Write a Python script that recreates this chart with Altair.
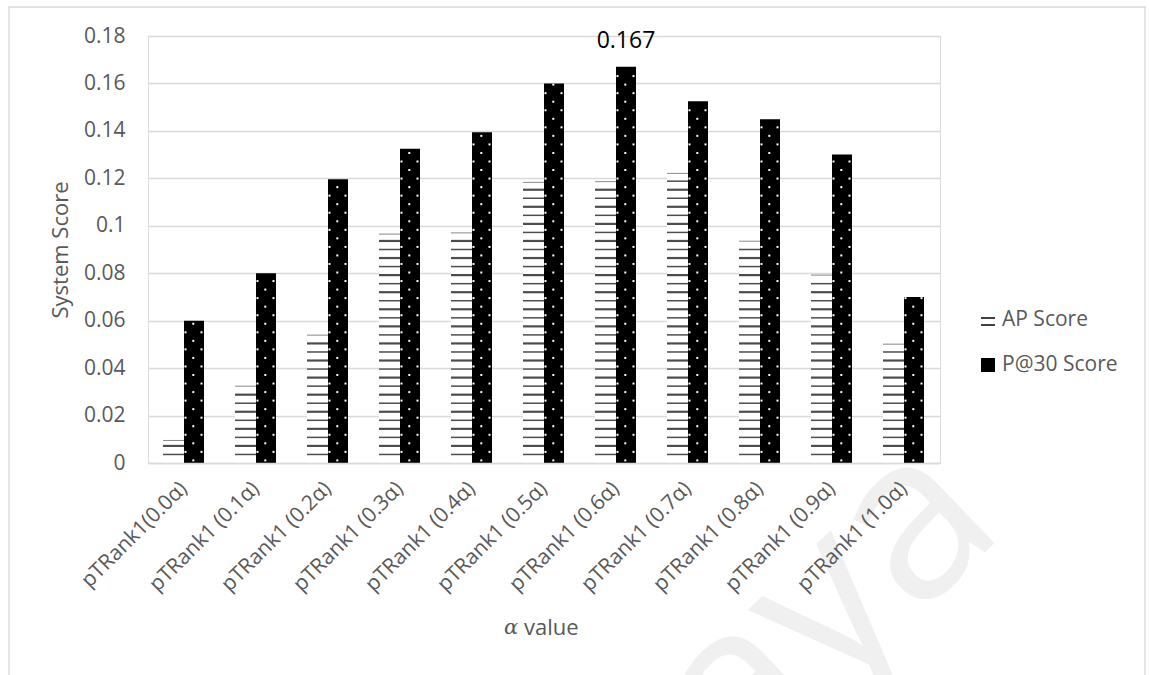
import altair as alt
import pandas as pd

# ---- data -------------------------------------------------------------
categories = [
    "pTRank1(0.0α)", "pTRank1 (0.1α)", "pTRank1 (0.2α)", "pTRank1 (0.3α)",
    "pTRank1 (0.4α)", "pTRank1 (0.5α)", "pTRank1 (0.6α)", "pTRank1 (0.7α)",
    "pTRank1 (0.8α)", "pTRank1 (0.9α)", "pTRank1 (1.0α)",
]
ap_scores = [0.0095, 0.0324, 0.0539, 0.0965, 0.0970, 0.1183, 0.1186, 0.1221, 0.0935, 0.0792, 0.0501]
p30_scores = [0.060, 0.080, 0.1196, 0.1325, 0.1394, 0.160, 0.167, 0.1525, 0.1449, 0.130, 0.070]
labelled_category = "pTRank1 (0.6α)"
series_names = ["AP Score", "P@30 Score"]
y_ticks = [0, 0.02, 0.04, 0.06, 0.08, 0.1, 0.12, 0.14, 0.16, 0.18]

# ---- styling ----------------------------------------------------------
FONT = "Open Sans"
GREY_TEXT = "#595959"
GRID = "#d9d9d9"
W, H = 792, 427
PAD_L, PAD_T = 148, 36
PATTERN_STEP = 0.0036  # spacing of the hatch lines / dot rows in data units

ap_df = pd.DataFrame({"cat": categories, "value": ap_scores})
p_df = pd.DataFrame({"cat": categories, "value": p30_scores})

# horizontal hatch lines inside the AP bars
hatch_rows = []
for c, v in zip(categories, ap_scores):
    k = 1
    while k * PATTERN_STEP < v - 0.0006:
        hatch_rows.append({"cat": c, "y": k * PATTERN_STEP, "heavy": k % 2 == 0})
        k += 1
hatch = pd.DataFrame(hatch_rows)

# dotted texture inside the P@30 bars
dot_rows = []
for c, v in zip(categories, p30_scores):
    k = 0
    while 0.0011 + k * PATTERN_STEP < v - 0.0004:
        dot_rows.append({"cat": c, "y": 0.0011 + k * PATTERN_STEP, "mid": k % 2 == 0})
        k += 1
dots = pd.DataFrame(dot_rows)

x_enc = alt.X(
    "cat:N",
    sort=categories,
    scale=alt.Scale(domain=categories, paddingInner=0, paddingOuter=0),
    axis=alt.Axis(
        title=None, labelAngle=-45, labelAlign="right", labelBaseline="middle",
        labelPadding=22, labelFontSize=21, labelColor=GREY_TEXT, labelFont=FONT,
        ticks=False, domainColor=GRID, domainWidth=1.3, grid=False, zindex=1,
    ),
)
y_scale = alt.Scale(domain=[0, 0.18], nice=False, zero=True)
y_enc = alt.Y(
    "value:Q",
    scale=y_scale,
    axis=alt.Axis(
        title=None, values=y_ticks, format=".2~f", labelFontSize=21,
        labelColor=GREY_TEXT, labelFont=FONT, labelPadding=23, ticks=False,
        domain=False, grid=True, gridColor=GRID, gridWidth=1.3,
    ),
)

one = pd.DataFrame({"k": [0]})

# faint watermark behind everything
watermark = alt.Chart(one).mark_text(
    text="Malaya", font=FONT, fontSize=230, color="#f0f0f0", angle=316,
    align="right", baseline="alphabetic",
).encode(x=alt.value(860), y=alt.value(494))

border = alt.Chart(one).mark_rect(
    fillOpacity=0, stroke=GRID, strokeWidth=1.3
).encode(
    x=alt.value(9 - PAD_L), x2=alt.value(1145 - PAD_L),
    y=alt.value(7 - PAD_T), y2=alt.value(720),
)

ap_bars = alt.Chart(ap_df).mark_bar(width=21, xOffset=-10.5, color="white").encode(
    x=x_enc, y=y_enc
)

# thin edge along the top of each AP bar
ap_tops = alt.Chart(ap_df).mark_tick(
    orient="horizontal", size=21, thickness=1, xOffset=-10.5, color="#555555"
).encode(x=alt.X("cat:N", sort=categories), y=alt.Y("value:Q", scale=y_scale))

hatch_light = alt.Chart(hatch[~hatch["heavy"]]).mark_tick(
    orient="horizontal", size=21, thickness=1.5, xOffset=-10.5, color="black"
).encode(x=alt.X("cat:N", sort=categories), y=alt.Y("y:Q", scale=y_scale))

hatch_heavy = alt.Chart(hatch[hatch["heavy"]]).mark_tick(
    orient="horizontal", size=21, thickness=2.2, xOffset=-10.5, color="black"
).encode(x=alt.X("cat:N", sort=categories), y=alt.Y("y:Q", scale=y_scale))

p_bars = alt.Chart(p_df).mark_bar(width=20, xOffset=10, color="black").encode(
    x=alt.X("cat:N", sort=categories), y=alt.Y("value:Q", scale=y_scale)
)

def dot_layer(frame, dx):
    return alt.Chart(frame).mark_square(size=4, xOffset=dx, color="white", opacity=1).encode(
        x=alt.X("cat:N", sort=categories), y=alt.Y("y:Q", scale=y_scale)
    )

dots_mid = dot_layer(dots[dots["mid"]], 9.3)
dots_left = dot_layer(dots[~dots["mid"]], 1.5)
dots_right = dot_layer(dots[~dots["mid"]], 17.5)

value_label = alt.Chart(p_df[p_df["cat"] == labelled_category]).mark_text(
    font=FONT, fontSize=23, color="black", xOffset=10, dy=-19, baseline="alphabetic"
).encode(
    x=alt.X("cat:N", sort=categories), y=alt.Y("value:Q", scale=y_scale),
    text=alt.Text("value:Q", format=".3f"),
)

y_title = alt.Chart(one).mark_text(
    text="System Score", font=FONT, fontSize=22, color=GREY_TEXT, angle=270,
    align="center", baseline="middle",
).encode(x=alt.value(61 - PAD_L), y=alt.value(250 - PAD_T))

x_title_alpha = alt.Chart(one).mark_text(
    text="α", font="DejaVu Serif", fontStyle="italic", fontSize=21, color=GREY_TEXT,
    align="left", baseline="middle",
).encode(x=alt.value(504 - PAD_L), y=alt.value(628 - PAD_T))
x_title_rest = alt.Chart(one).mark_text(
    text="value", font=FONT, fontSize=22, color=GREY_TEXT,
    align="left", baseline="middle",
).encode(x=alt.value(524 - PAD_L), y=alt.value(628 - PAD_T))

# legend
LX = 981 - PAD_L
leg_ap_lines = alt.Chart(pd.DataFrame({"ly": [318 - PAD_T, 325 - PAD_T]})).mark_rule(
    color="black", strokeWidth=1.5
).encode(x=alt.value(LX), x2=alt.value(LX + 14), y=alt.Y("ly:Q", scale=None))
leg_p_box = alt.Chart(one).mark_rect(color="black").encode(
    x=alt.value(LX), x2=alt.value(LX + 14),
    y=alt.value(358 - PAD_T), y2=alt.value(372 - PAD_T),
)
leg_text = alt.Chart(pd.DataFrame({
    "name": series_names, "ly": [320 - PAD_T, 365 - PAD_T]
})).mark_text(
    font=FONT, fontSize=21, color=GREY_TEXT, align="left", baseline="middle"
).encode(x=alt.value(LX + 21), y=alt.Y("ly:Q", scale=None), text="name:N")

chart = alt.layer(
    watermark, border, ap_bars, hatch_light, hatch_heavy, ap_tops, p_bars,
    dots_mid, dots_left, dots_right, value_label,
    y_title, x_title_alpha, x_title_rest, leg_ap_lines, leg_p_box, leg_text,
).properties(
    width=W, height=H,
    autosize=alt.AutoSizeParams(type="none"),
    padding={"left": PAD_L, "top": PAD_T, "right": 1149 - PAD_L - W, "bottom": 675 - PAD_T - H},
    background="white",
).configure_view(strokeWidth=0).configure(font=FONT)

chart.save("out.html", embed_options={"renderer": "svg", "actions": False})
